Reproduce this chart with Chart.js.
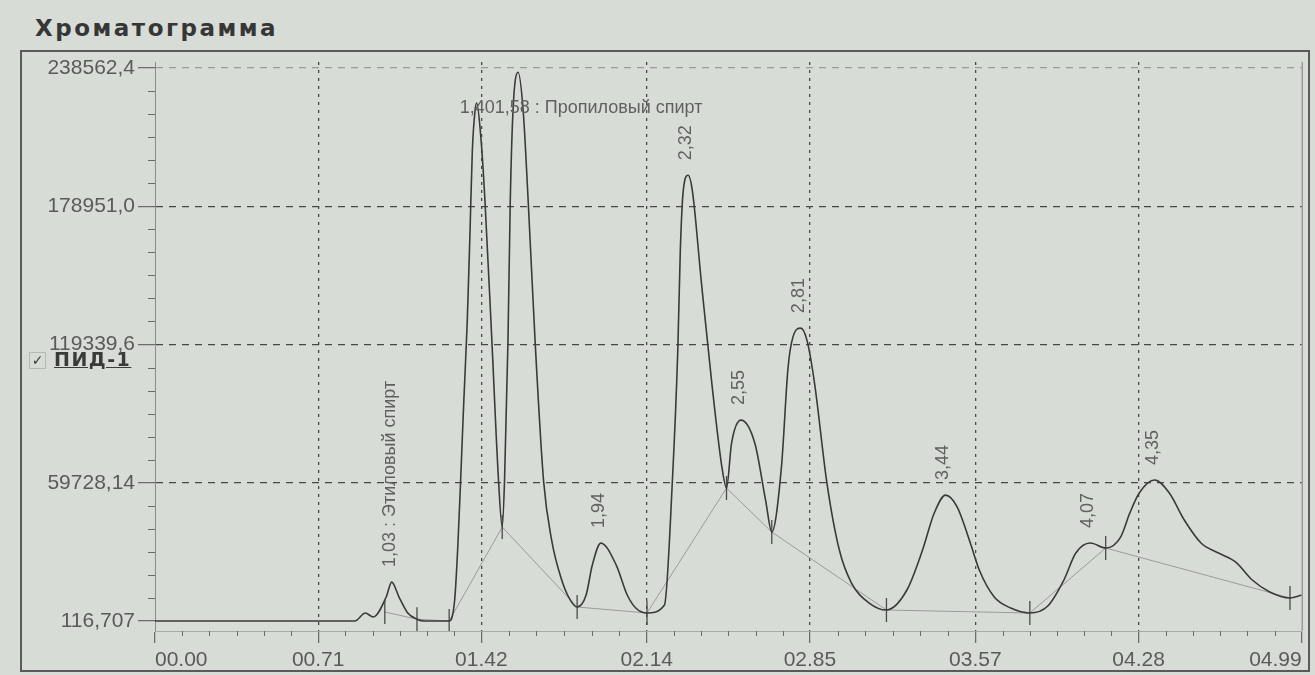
<!DOCTYPE html>
<html>
<head>
<meta charset="utf-8">
<title>Хроматограмма</title>
<script src="https://cdn.jsdelivr.net/npm/chart.js@4.4.1/dist/chart.umd.min.js"></script>
<style>
    html, body {
        margin: 0;
        padding: 0;
        width: 1315px;
        height: 675px;
        overflow: hidden;
        background: #d8dcd7;
    }
    #title {
        position: absolute;
        left: 35px;
        top: 15px;
        font: bold 23px 'DejaVu Sans', sans-serif;
        letter-spacing: 2.5px;
        color: #363636;
    }
    #frame {
        position: absolute;
        left: 20px;
        top: 50px;
        width: 1286px;
        height: 618px;
        border: 2px solid #5a5a5a;
    }
    #legend {
        position: absolute;
        left: 29px;
        top: 348px;
        font: bold 19px 'DejaVu Sans', sans-serif;
        letter-spacing: 1.5px;
        color: #3a3a3a;
    }
    #legend .box {
        display: inline-block;
        width: 15px;
        height: 15px;
        border: 1px solid #b5b8b4;
        font-size: 14px;
        line-height: 15px;
        text-align: center;
        vertical-align: 1px;
        margin-right: 8px;
        letter-spacing: 0;
    }
    #legend .name {
        text-decoration: underline;
    }
    #wrap {
        position: absolute;
        left: 0;
        top: 0;
        width: 1315px;
        height: 675px;
    }
</style>
</head>
<body>
<div id="title">Хроматограмма</div>
<div id="frame"></div>
<div id="wrap"><canvas id="chart"></canvas></div>
<div id="legend"><span class="box">✓</span><span class="name">ПИД-1</span></div>

<script>
// Axis ticks as printed
const xTickLabels = ['00.00', '00.71', '01.42', '02.14', '02.85', '03.57', '04.28', '04.99'];
const yTickLabels = ['116,707', '59728,14', '119339,6', '178951,0', '238562,4'];
const xTickValues = xTickLabels.map(Number);
const yTickValues = yTickLabels.map(s => Number(s.replace(',', '.')));

// Signal trace (time in min, signal)
const traceTimes = [
    0, 0.87, 0.915, 0.95, 1.006, 1.03, 1.062, 1.10, 1.14, 1.17, 1.28,
    1.304, 1.318, 1.330, 1.344, 1.359, 1.371, 1.381, 1.392, 1.40,
    1.419, 1.436, 1.466, 1.495, 1.511,
    1.521, 1.536, 1.546, 1.558, 1.58,
    1.602, 1.624, 1.654, 1.691, 1.726, 1.767, 1.800, 1.837,
    1.876, 1.903, 1.94, 2.007, 2.055, 2.092, 2.141,
    2.217, 2.251, 2.275, 2.286, 2.299, 2.32, 2.338, 2.378, 2.423, 2.467, 2.487,
    2.509, 2.55, 2.610, 2.657, 2.684,
    2.726, 2.755, 2.776, 2.81, 2.837, 2.870, 2.924, 2.978, 3.031, 3.108, 3.183,
    3.272, 3.340, 3.391, 3.44, 3.491, 3.548, 3.587, 3.652, 3.724, 3.807,
    3.885, 3.955, 4.007, 4.07, 4.137,
    4.202, 4.242, 4.283, 4.35, 4.414, 4.479, 4.552, 4.628, 4.703, 4.775, 4.851, 4.939, 4.99
];
const traceValues = [
    116.707, 116.707, 3565, 1841, 10460, 16900, 10460, 3565, 900, 116.707, 116.707,
    9168, 32873, 60888, 95368, 129848, 168638, 203118, 219500, 223400,
    207428, 181137, 120797, 60457, 40631,
    60457, 120797, 181137, 220358, 236700,
    220358, 181137, 120797, 60457, 35028, 18650, 10461, 6151,
    11323, 24253, 33700, 24253, 11323, 5720, 3565,
    7013, 59595, 116918, 160018, 185878, 192300, 185878, 145795, 102695, 66491, 57440,
    76835, 86750, 76835, 52268, 38476,
    66491, 109591, 122521, 126400, 121228, 102695, 59595, 30718, 16495, 7875, 4858,
    13478, 30718, 46665, 54400, 49251, 33735, 22098, 10461, 5720, 3565,
    6582, 17788, 29425, 33735, 31580,
    36321, 46665, 55285, 60900, 55285, 43648, 33735, 29425, 25546, 17788, 12616, 10030, 11323
];

// Integration baseline with peak start / end marks
const baseTimes = [1.00, 1.14, 1.28, 1.511, 1.837, 2.141, 2.487, 2.684, 3.183, 3.807, 4.137, 4.939];
const baseValues = [4000, 900, 116.707, 40631, 6151, 3565, 57440, 38476, 4858, 3565, 31580, 10030];

// Peak annotations
const peakTimes = [1.03, 1.94, 2.32, 2.55, 2.81, 3.44, 4.07, 4.35];
const peakLabels = ['1,03 : Этиловый спирт', '1,94', '2,32', '2,55', '2,81', '3,44', '4,07', '4,35'];
const mainPeakTime = 1.40;
const mainPeakLabel = '1,401,58 : Пропиловый спирт';

const yMin = -4193;
const yMax = 241148;

const labelFont = '18px "Liberation Sans", Arial, sans-serif';
const labelColor = '#606060';

// Minor tick marks (5 between each pair of labelled ticks)
const minorTicks = {
    id: 'minorTicks',
    afterDraw(chart) {
        const { ctx, chartArea, scales: { x, y } } = chart;
        ctx.save();
        ctx.strokeStyle = '#6a6a6a';
        ctx.lineWidth = 1;
        ctx.beginPath();
        for (let i = 0; i < xTickValues.length - 1; i++) {
            const a = xTickValues[i], b = xTickValues[i + 1];
            for (let k = 1; k < 6; k++) {
                const px = Math.round(x.getPixelForValue(a + (b - a) * k / 6)) + 0.5;
                ctx.moveTo(px, chartArea.bottom);
                ctx.lineTo(px, chartArea.bottom + 5);
            }
        }
        for (let i = 0; i < yTickValues.length - 1; i++) {
            const a = yTickValues[i], b = yTickValues[i + 1];
            for (let k = 1; k < 6; k++) {
                const py = Math.round(y.getPixelForValue(a + (b - a) * k / 6)) + 0.5;
                ctx.moveTo(chartArea.left - 7, py);
                ctx.lineTo(chartArea.left, py);
            }
        }
        ctx.stroke();
        // right edge of the plot
        ctx.strokeStyle = '#7a7a7a';
        ctx.beginPath();
        ctx.moveTo(chartArea.right + 0.5, chartArea.top);
        ctx.lineTo(chartArea.right + 0.5, chartArea.bottom);
        ctx.stroke();
        ctx.restore();
    }
};

// Retention time / compound labels
const peakNames = {
    id: 'peakNames',
    afterDatasetsDraw(chart) {
        const { ctx, scales: { x, y } } = chart;
        ctx.save();
        ctx.fillStyle = labelColor;
        ctx.font = labelFont;
        ctx.textAlign = 'left';
        ctx.textBaseline = 'middle';
        peakTimes.forEach((t, i) => {
            const v = traceValues[traceTimes.indexOf(t)];
            ctx.save();
            ctx.translate(x.getPixelForValue(t) - 2, y.getPixelForValue(v) - 15);
            ctx.rotate(-Math.PI / 2);
            ctx.fillText(peakLabels[i], 0, 0);
            ctx.restore();
        });
        const mv = traceValues[traceTimes.indexOf(mainPeakTime)];
        ctx.fillText(mainPeakLabel, x.getPixelForValue(mainPeakTime) - 17, y.getPixelForValue(mv) + 5);
        ctx.restore();
    }
};

const ctx = document.getElementById('chart').getContext('2d');
new Chart(ctx, {
    type: 'line',
    data: {
        datasets: [{
            label: 'ПИД-1',
            data: traceTimes.map((t, i) => ({ x: t, y: traceValues[i] })),
            borderColor: '#3a3a3a',
            borderWidth: 1.6,
            pointRadius: 0,
            cubicInterpolationMode: 'monotone',
            fill: false,
            order: 0
        }, {
            label: 'baseline',
            data: baseTimes.map((t, i) => ({ x: t, y: baseValues[i] })),
            borderColor: '#9a9a9a',
            borderWidth: 1,
            tension: 0,
            pointStyle: 'line',
            pointRadius: 12,
            pointRotation: 90,
            pointBorderColor: '#4a4a4a',
            pointBorderWidth: 1.3,
            fill: false,
            order: 1
        }]
    },
    options: {
        responsive: true,
        maintainAspectRatio: false,
        animation: false,
        events: [],
        layout: { padding: { left: 0, right: 12, top: 62, bottom: 0 } },
        plugins: {
            legend: { display: false },
            tooltip: { enabled: false }
        },
        scales: {
            x: {
                type: 'linear',
                min: xTickValues[0],
                max: xTickValues[xTickValues.length - 1],
                afterBuildTicks: s => { s.ticks = xTickValues.map(v => ({ value: v })); },
                afterFit: s => { s.height = 44; s.paddingLeft = 0; s.paddingRight = 0; },
                ticks: {
                    align: 'inner',
                    padding: 5,
                    color: '#5a5a5a',
                    font: { family: '"Liberation Sans", Arial, sans-serif', size: 21 },
                    callback: (v, i) => xTickLabels[i]
                },
                grid: {
                    color: c => (c.index === 0 || c.index === xTickValues.length - 1) ? 'rgba(0,0,0,0)' : '#474747',
                    lineWidth: 1.3,
                    tickLength: 12,
                    tickColor: '#666',
                    tickWidth: 1.2
                },
                border: { display: true, color: '#a8aaa7', width: 1, dash: [3, 5] }
            },
            y: {
                type: 'linear',
                min: yMin,
                max: yMax,
                afterBuildTicks: s => { s.ticks = yTickValues.map(v => ({ value: v })); },
                afterFit: s => { s.width = 155; s.paddingTop = 0; s.paddingBottom = 0; },
                ticks: {
                    padding: 3,
                    color: '#5a5a5a',
                    font: { family: '"Liberation Sans", Arial, sans-serif', size: 21 },
                    callback: (v, i) => yTickLabels[i]
                },
                grid: {
                    color: c => c.index === 0 ? 'rgba(0,0,0,0)' : (c.index === yTickValues.length - 1 ? '#9a9a9a' : '#474747'),
                    lineWidth: 1.3,
                    tickLength: 17,
                    tickColor: '#666',
                    tickWidth: 1.2
                },
                border: { display: true, color: '#8a8a8a', width: 1, dash: [7, 6] }
            }
        }
    },
    plugins: [minorTicks, peakNames]
});
</script>
</body>
</html>
